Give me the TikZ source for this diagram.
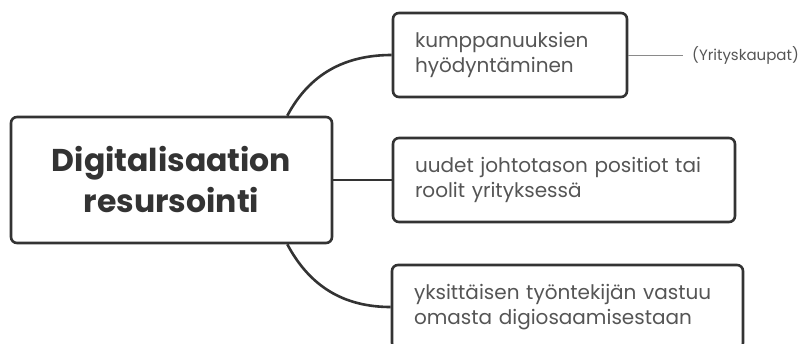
\documentclass[tikz,border=0pt]{standalone}
\usepackage{fontspec}
\setmainfont{Poppins}
\definecolor{linegray}{HTML}{333333}
\definecolor{textgray}{HTML}{555555}
\definecolor{thingray}{HTML}{8A8A8A}
\begin{document}
\begin{tikzpicture}[x=1pt, y=-1pt,
	box/.style = {draw=linegray, line width=2.6pt, rounded corners=6pt, fill=white},
	leaf/.style = {box, minimum height=84pt, inner xsep=22pt, align=left, text=textgray,
		font=\fontsize{20}{25.5}\selectfont},
	branch/.style = {draw=linegray, line width=2.6pt}]
	\useasboundingbox (0,0) rectangle (800,343);
	\clip (0,0) rectangle (800,343);
	\node [box, minimum width=321pt, minimum height=126pt, align=center, text=linegray,
		font=\fontsize{31.5}{41}\selectfont\bfseries] (root) at (171.5,180) {Digitalisaation\\resursointi};
	\node [leaf, text width=190pt] (b1) at (510,55) {kumppanuuksien\\hyödyntäminen};
	\node [leaf, text width=298pt] (b2) at (564,180) {uudet johtotason positiot tai\\roolit yrityksessä};
	\node [leaf, text width=307pt] (b3) at (567.5,307) {yksittäisen työntekijän vastuu\\omasta digiosaamisestaan};
	\node [anchor=west, inner sep=0pt, text=textgray, font=\fontsize{15}{18}\selectfont] (sub) at (692,55) {(Yrityskaupat)};
	\draw [branch] (root.east) -- (b2.west);
	\draw [branch] ([xshift=-46pt]root.north east) to[out=62, in=180] (b1.west);
	\draw [branch] ([xshift=-46pt]root.south east) to[out=-62, in=180] (b3.west);
	\draw [thingray, line width=1pt] (b1.east) -- ([xshift=-9pt]sub.west);
\end{tikzpicture}
\end{document}
